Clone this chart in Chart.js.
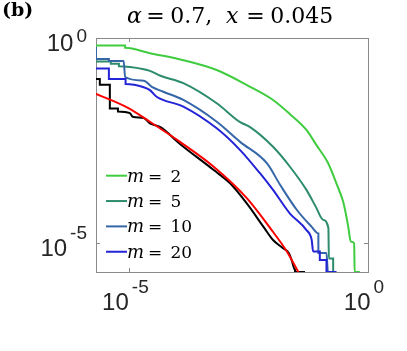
<!DOCTYPE html>
<html>
<head>
<meta charset="utf-8">
<script src="https://cdn.jsdelivr.net/npm/chart.js@4"></script>
<style>
  html, body { margin: 0; padding: 0; background: #fff; }
  #wrap { width: 407px; height: 351px; }
</style>
</head>
<body>
<div id="wrap"><canvas id="ccdf" width="407" height="351"></canvas></div>
<script>
// values, stored as log10(value)
const m2LogX = [-5.70, -5.09, -5.09, -4.57, -3.87, -3.17, -2.47, -1.99, -1.64, -1.29, -1.08, -0.84, -0.65, -0.52, -0.44, -0.41, -0.36, -0.29, -0.28, -0.17];
const m2LogY = [-0.18, -0.18, -0.24, -0.37, -0.54, -0.78, -1.19, -1.51, -1.85, -2.24, -2.61, -3.04, -3.58, -3.99, -4.43, -4.63, -4.96, -5.00, -5.70, -5.70];

const m5LogX = [-5.70, -5.39, -5.39, -5.22, -5.22, -4.70, -4.57, -4.35, -3.87, -3.17, -2.68, -2.47, -1.99, -1.64, -1.29, -1.09, -0.94, -0.83, -0.82, -0.73, -0.73];
const m5LogY = [-0.57, -0.57, -0.63, -0.63, -0.69, -0.76, -0.80, -0.92, -1.10, -1.59, -2.05, -2.17, -2.65, -3.13, -3.70, -4.12, -4.43, -4.63, -5.37, -5.37, -5.70];

const m10LogX = [-5.70, -5.70, -5.43, -5.43, -5.12, -5.09, -4.70, -4.53, -4.29, -3.87, -3.17, -2.68, -2.12, -1.84, -1.49, -1.18, -1.04, -1.04, -0.87, -0.84, -0.73];
const m10LogY = [-0.22, -0.51, -0.51, -0.56, -0.56, -0.95, -1.04, -1.19, -1.31, -1.51, -2.04, -2.53, -3.05, -3.58, -4.19, -4.60, -4.76, -5.24, -5.24, -5.70, -5.70];

const m20LogX = [-5.70, -5.43, -5.43, -5.08, -5.08, -4.70, -4.57, -4.43, -3.87, -3.17, -2.68, -2.26, -1.99, -1.64, -1.29, -1.18, -1.15, -1.01, -1.01, -0.87, -0.87, -0.66];
const m20LogY = [-0.74, -0.74, -1.00, -1.00, -1.12, -1.20, -1.27, -1.43, -1.67, -2.20, -2.73, -3.30, -3.70, -4.27, -4.68, -4.92, -5.20, -5.20, -5.41, -5.41, -5.70, -5.70];

const dataLogX = [-5.70, -5.62, -5.62, -5.41, -5.41, -5.24, -5.24, -4.99, -4.93, -4.70, -4.57, -4.35, -3.94, -3.24, -2.89, -2.54, -2.19, -1.99, -1.78, -1.66, -1.60, -1.53, -1.53, -1.32];
const dataLogY = [-1.00, -1.00, -1.14, -1.14, -1.72, -1.72, -1.79, -1.83, -1.92, -1.95, -2.08, -2.17, -2.58, -3.21, -3.54, -4.03, -4.60, -4.92, -5.12, -5.24, -5.41, -5.65, -5.70, -5.70];

const fitLogX = [-5.70, -5.05, -4.57, -3.94, -3.24, -2.54, -2.05, -1.70, -1.46];
const fitLogY = [-1.36, -1.69, -2.04, -2.53, -3.13, -3.90, -4.63, -5.20, -5.70];

const seriesLabels = ["m = 2", "m = 5", "m = 10", "m = 20"];
const seriesColors = ["#3fcc3f", "#2c8c6c", "#3567a8", "#2323d8"];

const axisMinExp = -5.7;
const xTicks = [1e-5, 1];
const yTicks = [1e-5, 1];
const xTickLabels = ["10^-5", "10^0"];
const yTickLabels = ["10^-5", "10^0"];

const titleParts = ["α", "=", "0.7,", "x", "=", "0.045"];
const panelLabel = "(b)";

const tickFont = '"Liberation Sans", Arial, sans-serif';
const mathFont = '"DejaVu Serif", serif';

function toPoints(logX, logY) {
    return logX.map(function (lx, i) {
        return { x: Math.pow(10, lx), y: Math.pow(10, logY[i]) };
    });
}

// draws "10" with a raised exponent
function drawPower(ctx, text, x, y, align, expTop) {
    let parts = text.split("^");
    ctx.font = "24px " + tickFont;
    let wb = ctx.measureText(parts[0]).width;
    ctx.font = "19px " + tickFont;
    let we = ctx.measureText(parts[1]).width;
    let gap = 3;
    let total = wb + gap + we;
    let left = align === "right" ? x - total : x - total / 2;
    let expY = y - 17.6;
    if (expTop !== undefined && expY < expTop) expY = expTop; // keep the top label inside
    ctx.textAlign = "left";
    ctx.textBaseline = "alphabetic";
    ctx.font = "24px " + tickFont;
    ctx.fillText(parts[0], left, y);
    ctx.font = "19px " + tickFont;
    ctx.fillText(parts[1], left + wb + gap, expY);
}

const frameAndText = {
    id: "frameAndText",
    beforeDatasetsDraw(chart) {
        const ctx = chart.ctx;
        const a = chart.chartArea;
        const xs = chart.scales.x, ys = chart.scales.y;
        ctx.save();
        ctx.strokeStyle = "#8a8a8a";
        ctx.lineWidth = 1;
        ctx.strokeRect(Math.round(a.left) + 0.5, Math.round(a.top) + 0.5,
            Math.round(a.right - a.left), Math.round(a.bottom - a.top));
        ctx.beginPath();
        xTicks.forEach(function (v) {
            let px = Math.round(xs.getPixelForValue(v)) + 0.5;
            ctx.moveTo(px, a.bottom); ctx.lineTo(px, a.bottom - 4);
            ctx.moveTo(px, a.top); ctx.lineTo(px, a.top + 4);
        });
        yTicks.forEach(function (v) {
            let py = Math.round(ys.getPixelForValue(v)) + 0.5;
            ctx.moveTo(a.left, py); ctx.lineTo(a.left + 4, py);
            ctx.moveTo(a.right, py); ctx.lineTo(a.right - 4, py);
        });
        ctx.stroke();
        ctx.restore();
    },
    afterDraw(chart) {
        const ctx = chart.ctx;
        const a = chart.chartArea;
        const xs = chart.scales.x, ys = chart.scales.y;
        ctx.save();

        // tick labels
        ctx.fillStyle = "#262626";
        xTicks.forEach(function (v, i) {
            drawPower(ctx, xTickLabels[i], xs.getPixelForValue(v) - 4, a.bottom + 38.3, "center");
        });
        yTicks.forEach(function (v, i) {
            drawPower(ctx, yTickLabels[i], a.left - 9, ys.getPixelForValue(v) + 13, "right", a.top + 4);
        });

        // title
        ctx.fillStyle = "#000";
        ctx.textAlign = "left";
        const cx = (a.left + a.right) / 2;
        const titleOffsets = [-105, -85.8, -61.8, -6, 14.2, 38.2];
        titleParts.forEach(function (t, i) {
            let italic = (t === "α" || t === "x");
            ctx.font = (italic ? "italic " : "") + "22px " + mathFont;
            ctx.fillText(t, cx + titleOffsets[i], 22.7);
        });

        // panel label
        ctx.font = "bold 19px " + mathFont;
        ctx.fillText(panelLabel, 2, 15.5);

        // legend inside the axes
        const ds = chart.data.datasets;
        for (let i = 0; i < seriesLabels.length; i++) {
            let rowY = a.top + 137.7 + i * 25.35;
            ctx.strokeStyle = ds[i].borderColor;
            ctx.lineWidth = 2;
            ctx.beginPath();
            ctx.moveTo(a.left + 10, rowY);
            ctx.lineTo(a.left + 31, rowY);
            ctx.stroke();
            let bits = ds[i].label.split(" ");
            ctx.fillStyle = "#000";
            ctx.font = "italic 18px " + mathFont;
            ctx.fillText(bits[0], a.left + 31, rowY + 6);
            ctx.font = "17px " + mathFont;
            ctx.fillText(bits[1], a.left + 52, rowY + 6);
            ctx.fillText(bits[2], a.left + 74.5, rowY + 6);
        }
        ctx.restore();
    }
};

const lineSets = [
    { label: seriesLabels[0], data: toPoints(m2LogX, m2LogY), borderColor: seriesColors[0], order: 5 },
    { label: seriesLabels[1], data: toPoints(m5LogX, m5LogY), borderColor: seriesColors[1], order: 4 },
    { label: seriesLabels[2], data: toPoints(m10LogX, m10LogY), borderColor: seriesColors[2], order: 3 },
    { label: seriesLabels[3], data: toPoints(m20LogX, m20LogY), borderColor: seriesColors[3], order: 2 },
    { label: "data", data: toPoints(dataLogX, dataLogY), borderColor: "#000000", order: 1 },
    { label: "fit", data: toPoints(fitLogX, fitLogY), borderColor: "#ff0000", order: 0 }
];

new Chart(document.getElementById("ccdf").getContext("2d"), {
    type: "line",
    data: { datasets: lineSets },
    options: {
        responsive: false,
        animation: false,
        devicePixelRatio: 1,
        layout: { padding: { left: 96, right: 39, top: 38, bottom: 79 } },
        elements: {
            point: { radius: 0 },
            line: { borderWidth: 2, cubicInterpolationMode: "monotone", fill: false }
        },
        scales: {
            x: { type: "logarithmic", min: Math.pow(10, axisMinExp), max: 1, display: false },
            y: { type: "logarithmic", min: Math.pow(10, axisMinExp), max: 1, display: false }
        },
        plugins: {
            legend: { display: false },
            tooltip: { enabled: false }
        }
    },
    plugins: [frameAndText]
});
</script>
</body>
</html>
